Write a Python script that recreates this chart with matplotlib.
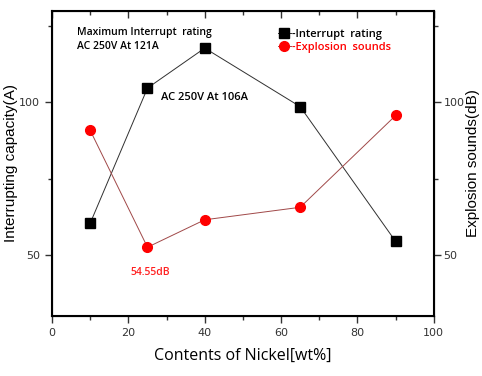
import matplotlib.pyplot as plt
from matplotlib.ticker import MultipleLocator

# data
nickel = [10, 25, 40, 65, 90]            # wt%
interrupt = [60.4, 104.7, 117.8, 98.6, 54.4]   # A
sounds = [90.8, 52.5, 61.5, 65.6, 95.7]        # dB

txtfont = 'Open Sans'
lblfont = 'Liberation Sans'

fig = plt.figure(figsize=(4.82, 3.76), dpi=100)
ax = fig.add_axes([0.108, 0.160, 0.792, 0.811])
ax2 = ax.twinx()

l1, = ax.plot(nickel, interrupt, color='#303030', lw=0.7, marker='s', ms=7,
              mfc='black', mec='black', label='-Interrupt  rating')
l2, = ax2.plot(nickel, sounds, color='#a04848', lw=0.7, marker='o', ms=7,
               mfc='#ff0000', mec='#ff0000', label='-Explosion  sounds')

for a in (ax, ax2):
    a.set_ylim(30, 130)
    a.yaxis.set_major_locator(MultipleLocator(50))
    a.yaxis.set_minor_locator(MultipleLocator(25))
ax.set_xlim(0, 100)
ax.xaxis.set_major_locator(MultipleLocator(20))
ax.xaxis.set_minor_locator(MultipleLocator(10))

ax.tick_params(axis='x', which='both', direction='out', top=True, labelsize=8, colors='#333333')
ax.tick_params(axis='y', which='both', direction='out', labelsize=8, colors='#333333')
ax2.tick_params(axis='y', which='both', direction='out', labelsize=8, colors='#333333', pad=2)
ax.tick_params(which='major', length=5, width=1)
ax.tick_params(which='minor', length=3, width=1)
ax2.tick_params(which='major', length=5, width=1)
ax2.tick_params(which='minor', length=3, width=1)
# top ticks point into the frame
for t in ax.xaxis.get_major_ticks() + ax.xaxis.get_minor_ticks():
    t.tick2line.set_marker(3)
for sp in ax2.spines.values():
    sp.set_linewidth(1.5)

ax.set_xlabel('Contents of Nickel[wt%]', fontsize=11.5, family=txtfont, labelpad=7)
ax.set_ylabel('Interrupting capacity(A)', fontsize=11, family=lblfont, labelpad=1)
ax2.set_ylabel('Explosion sounds(dB)', fontsize=11, family=lblfont, labelpad=1)

ax.text(6.5, 120.7, 'Maximum Interrupt  rating\nAC 250V At 121A', fontsize=7.5,
        family=txtfont, fontweight='semibold', va='center', linespacing=1.35)
ax.text(28.5, 101.5, 'AC 250V At 106A', fontsize=8, family=txtfont,
        fontweight='semibold', va='center')
ax.text(20.5, 44.3, '54.55dB', fontsize=7.5, family=txtfont, fontweight='semibold',
        color='#ff2020', va='center')

leg = ax.legend(handles=[l1, l2], loc='upper left', bbox_to_anchor=(0.565, 0.975),
                frameon=False, handlelength=1.2, handletextpad=0.1,
                labelspacing=0.25, prop={'family': txtfont, 'size': 8, 'weight': 'semibold'})
leg.get_texts()[1].set_color('#ff0000')

fig.savefig('out.png', dpi=100)
